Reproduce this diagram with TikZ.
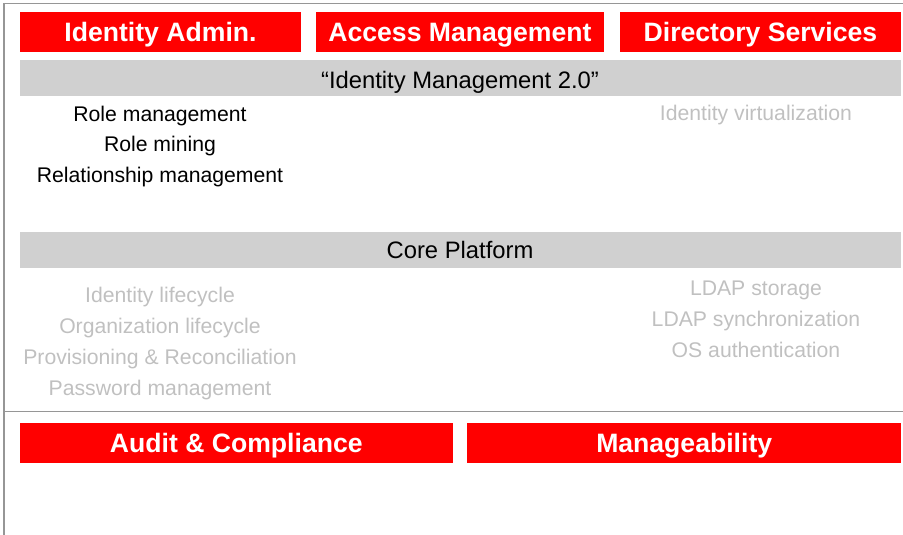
\documentclass[tikz,border=0pt]{standalone}
\usepackage{fontspec}
\setmainfont{Liberation Sans}
\definecolor{hdrred}{RGB}{255,0,0}
\definecolor{barGray}{RGB}{208,208,208}
\definecolor{txtGray}{RGB}{192,192,192}
\definecolor{frameGray}{RGB}{150,150,150}
\begin{document}
\begin{tikzpicture}[x=1pt,y=-1pt,
  redbox/.style={fill=hdrred,draw=none,text=white,inner sep=0pt,
     text height=18.6pt,text depth=0pt,
     font=\fontsize{26.6}{30}\selectfont\bfseries},
  graybar/.style={draw=none,inner sep=0pt,text height=16.7pt,text depth=0pt,
     font=\fontsize{23.8}{28}\selectfont},
  blacktxt/.style={inner sep=0pt,text height=14.8pt,text depth=0pt,
     font=\fontsize{21.2}{25}\selectfont,text=black},
  greytxt/.style={blacktxt,text=txtGray},
  frame/.style={draw=frameGray,line width=1.5pt}]
\useasboundingbox (0,0) rectangle (903,535);
% frame
\coordinate (ftl) at (4,3.5);
\coordinate (ftr) at (903,3.5);
\coordinate (fbl) at (4,535);
\coordinate (fml) at (4,411.7);
\coordinate (fmr) at (903,411.7);
\draw[frame] (ftr) -- (ftl) -- (fbl);
\draw[frame] (fml) -- (fmr);
% top headers
\node[redbox,minimum width=281pt,minimum height=40pt] (ia) at (160.5,31.9) {Identity Admin.};
\node[redbox,minimum width=288pt,minimum height=40pt] (am) at (460,31.9) {Access Management};
\node[redbox,minimum width=281pt,minimum height=40pt] (ds) at (760.5,31.9) {Directory Services};
% bars
\fill[barGray] (20,60) rectangle (901,96);
\fill[barGray] (20,232) rectangle (901,267.7);
\node[graybar] (im) at (460,80.5) {“Identity Management 2.0”};
\node[graybar] (cp) at (460,250) {Core Platform};
% Identity Management 2.0 items
\node[blacktxt] (rm) at (160,114.5) {Role management};
\node[blacktxt] (rmi) at (160,144.5) {Role mining};
\node[blacktxt] (rel) at (160,175) {Relationship management};
\node[greytxt] (iv) at (756,113.5) {Identity virtualization};
% Core platform items
\node[greytxt] (il) at (160,295.3) {Identity lifecycle};
\node[greytxt] (ol) at (160,326.3) {Organization lifecycle};
\node[greytxt] (pr) at (160,357.3) {Provisioning \& Reconciliation};
\node[greytxt] (pw) at (160,388.3) {Password management};
\node[greytxt] (ls) at (756,288.5) {LDAP storage};
\node[greytxt] (lsy) at (756,319.5) {LDAP synchronization};
\node[greytxt] (os) at (756,350.5) {OS authentication};
% bottom headers
\node[redbox,minimum width=433.3pt,minimum height=40.6pt] (ac) at (236.3,443) {Audit \& Compliance};
\node[redbox,minimum width=433.7pt,minimum height=40.6pt] (mg) at (684.2,443) {Manageability};
\end{tikzpicture}
\end{document}
